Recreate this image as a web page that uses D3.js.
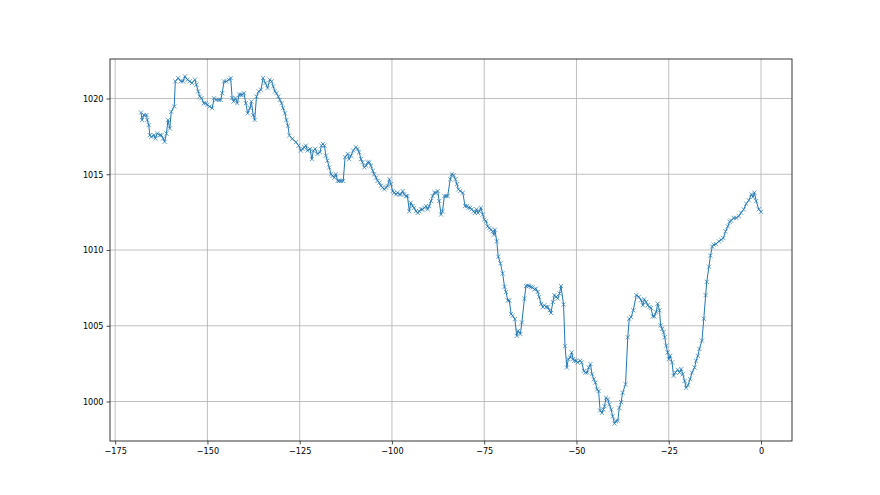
<!DOCTYPE html>
<html><head><meta charset="utf-8">
<script src="https://cdn.jsdelivr.net/npm/d3@7"></script>
<style>
html,body{margin:0;padding:0;background:#fff;}
svg text{font-family:"DejaVu Sans Condensed","DejaVu Sans",sans-serif;font-size:9px;fill:#000;}
</style></head>
<body>
<svg id="chart" width="880" height="495"></svg>
<script>
// hours relative to now
const hours = [
-168.0,-167.7,-167.2,-166.5,-166.3,-165.9,-165.6,-165.2,-164.5,-164.1,-163.6,-162.9,-162.5,-162.0,-161.6,-161.1,-160.7,-160.2,-159.8,-159.0,
-158.7,-157.9,-157.2,-156.6,-156.1,-155.4,-154.8,-154.2,-153.4,-153.0,-152.5,-152.1,-151.6,-151.0,-150.5,-150.0,-149.4,-148.7,-148.2,-147.6,
-146.9,-146.4,-146.0,-145.5,-144.8,-144.2,-143.7,-143.3,-142.9,-142.4,-141.9,-141.4,-141.0,-140.6,-140.1,-139.6,-139.1,-138.5,-138.1,-137.6,
-137.2,-136.7,-136.1,-135.5,-134.9,-134.3,-133.7,-133.1,-132.6,-132.2,-131.7,-131.3,-130.8,-130.4,-129.9,-129.5,-129.0,-128.6,-128.2,
-127.8,-127.0,-126.0,-125.3,-124.7,-124.2,-123.8,-123.3,-122.9,-122.2,-121.7,-121.3,-120.8,-120.2,-119.5,-119.1,-118.7,-118.3,-117.9,-117.5,
-117.0,-116.5,-116.1,-115.6,-115.2,-114.7,-114.3,-113.8,-113.2,-112.7,-112.0,-111.6,-111.1,-110.5,-109.8,-109.3,-108.9,-108.4,-108.0,-107.5,
-107.0,-106.6,-106.1,-105.7,-105.2,-104.8,-104.3,-103.9,-103.4,-103.0,-102.5,-102.1,-101.6,-101.2,-100.7,-100.3,-99.8,-99.4,-98.9,-98.5,
-98.0,-97.6,-97.1,-96.7,-96.2,-95.8,-95.3,-94.9,-94.4,-94.0,-93.5,-93.0,-92.6,-92.1,-91.7,-91.2,-90.8,-90.3,-89.9,-89.4,
-89.0,-88.5,-88.1,-87.6,-87.2,-86.7,-86.3,-85.8,-85.3,-84.9,
-84.2,-83.8,-83.3,-82.8,-82.4,-82.0,-81.5,-80.8,-80.2,-79.7,-79.3,-78.8,-78.4,-77.9,-77.5,-77.1,-76.7,-76.3,-75.9,-75.4,
-75.0,-74.5,-74.1,-73.6,-73.2,-72.7,-72.4,-72.1,-71.6,-71.2,-70.6,-70.0,-69.5,-69.1,-68.6,-68.2,-67.7,-67.3,-66.7,-66.2,
-65.8,-65.2,-64.8,-64.1,-63.7,-63.2,-62.8,-62.3,-61.9,-61.4,-61.0,-60.5,-60.1,-59.6,-59.1,-58.7,-58.2,-57.8,-57.3,-56.9,
-56.4,-56.0,-55.5,-55.1,-54.6,-54.2,-53.5,-53.1,-52.6,-52.2,-51.7,-51.3,-50.9,-50.6,-50.1,-49.7,-49.0,-48.6,-48.0,-47.6,
-47.1,-46.7,-46.2,-45.8,-45.3,-44.9,-44.4,-44.0,-43.6,-43.1,-42.7,
-42.4,-42.0,-41.5,-41.1,-40.6,-40.2,-39.7,-39.3,-38.8,-38.4,-37.9,-37.5,-36.7,-36.1,-35.7,-35.2,-34.6,-33.8,-33.1,-32.5,
-32.0,-31.6,-31.1,-30.7,-30.2,-29.8,-29.3,-28.9,-28.4,-28.0,-27.5,-27.2,-26.8,-26.4,-26.1,-25.7,-25.3,-25.0,-24.6,-24.1,
-23.7,-23.2,-22.6,-22.1,-21.6,-21.2,-20.7,-20.3,-19.8,-19.2,-18.7,-18.0,-17.6,-17.1,-16.7,-16.0,-15.5,-15.0,-14.7,-14.1,
-13.7,-13.2,-12.8,-12.2,-11.4,-10.8,-10.2,-9.6,-9.0,-8.5,-8.1,-7.4,-6.7,-6.0,-5.4,-4.7,-4.0,-3.3,-2.6,-2.2,
-1.8,-1.3,-0.6,0.0
];
// pressure (hPa)
const pressure = [
1019.07,1018.58,1018.91,1018.91,1018.58,1018.25,1017.58,1017.47,1017.58,1017.36,1017.69,1017.58,1017.58,1017.36,1017.14,1017.69,1018.58,1018.02,1019.13,1019.47,
1021.13,1021.35,1021.13,1021.13,1021.46,1021.24,1021.13,1021.02,1021.24,1020.91,1020.47,1020.13,1020.02,1019.69,1019.69,1019.58,1019.47,1019.36,1020.02,1019.91,
1019.91,1019.91,1020.35,1021.13,1021.13,1021.24,1021.35,1020.02,1019.80,1020.02,1019.69,1020.25,1020.25,1020.25,1020.35,1019.69,1019.02,1019.36,1019.80,1018.91,
1018.58,1020.13,1020.47,1020.58,1021.35,1021.02,1020.69,1021.24,1021.13,1020.80,1020.47,1020.35,1020.13,1019.91,1019.69,1019.36,1019.02,1018.58,1018.20,
1017.56,1017.34,1017.12,1016.89,1016.56,1016.67,1016.78,1016.89,1016.56,1016.67,1016.00,1016.56,1016.67,1016.34,1016.45,1016.89,1017.00,1016.89,1016.23,1015.90,
1015.45,1015.00,1014.89,1014.78,1015.00,1014.56,1014.56,1014.56,1014.56,1016.12,1016.34,1016.00,1016.23,1016.56,1016.78,1016.67,1016.45,1016.00,1015.79,1015.45,
1015.56,1015.79,1015.79,1015.56,1015.23,1015.00,1014.78,1014.56,1014.45,1014.23,1014.12,1014.00,1014.12,1014.23,1014.67,1014.34,1013.89,1013.78,1013.67,1013.78,
1013.67,1013.67,1013.89,1013.67,1013.56,1013.56,1012.56,1013.12,1012.90,1012.79,1012.56,1012.45,1012.56,1012.68,1012.68,1012.79,1012.90,1012.68,1012.90,1013.23,
1013.56,1013.78,1013.78,1013.89,1013.23,1012.34,1012.56,1013.56,1013.56,1013.56,
1014.67,1015.00,1014.94,1014.67,1014.34,1014.00,1013.89,1013.78,1012.90,1012.90,1012.79,1012.79,1012.68,1012.56,1012.45,1012.68,1012.45,1012.56,1012.79,1012.34,
1012.01,1011.90,1011.56,1011.45,1011.34,1011.23,1011.01,1011.34,1010.57,1009.56,1009.12,1008.45,1007.57,1007.23,1006.67,1006.67,1005.78,1005.66,1005.44,1004.33,
1004.67,1004.45,1005.22,1006.78,1007.62,1007.65,1007.62,1007.57,1007.53,1007.40,1007.45,1007.23,1006.90,1006.45,1006.23,1006.35,1006.24,1006.24,1006.02,1005.84,
1006.57,1007.02,1006.91,1006.80,1007.13,1007.62,1006.40,1003.65,1002.24,1002.80,1002.91,1003.24,1002.80,1002.69,1002.69,1002.58,1002.69,1002.58,1002.02,1001.91,
1001.91,1002.24,1002.47,1001.80,1001.47,1001.25,1000.80,1000.69,999.40,999.25,999.47,
999.69,1000.25,1000.14,999.81,999.47,999.03,998.54,998.70,998.74,999.58,999.96,1000.58,1001.14,1004.24,1005.46,1005.57,1006.02,1007.02,1006.91,1006.68,
1006.35,1006.75,1006.57,1006.35,1006.24,1006.17,1005.62,1005.62,1005.91,1006.46,1006.02,1005.02,1004.80,1004.57,1004.24,1003.69,1003.24,1002.80,1003.02,1002.58,
1001.69,1001.91,1002.09,1001.91,1002.14,1001.80,1001.36,1000.91,1001.07,1001.47,1001.91,1002.24,1002.69,1003.02,1003.47,1004.02,1005.46,1007.02,1007.90,1008.90,
1009.63,1010.23,1010.35,1010.39,1010.57,1010.68,1010.79,1011.23,1011.56,1011.86,1011.94,1012.12,1012.12,1012.23,1012.46,1012.68,1013.05,1013.28,1013.68,1013.50,
1013.79,1013.23,1012.68,1012.52
];
const xTicks = [-175,-150,-125,-100,-75,-50,-25,0];
const yTicks = [1000,1005,1010,1015,1020];

const data = hours.map((h,i)=>({h, p: pressure[i]}));
const svg = d3.select("#chart");
const L = 110, R = 792, T = 59, B = 441;

const xe = d3.extent(hours), ye = d3.extent(pressure);
const xm = (xe[1]-xe[0])*0.05, ym = (ye[1]-ye[0])*0.05;
const x = d3.scaleLinear().domain([xe[0]-xm, xe[1]+xm]).range([L, R]);
const y = d3.scaleLinear().domain([ye[0]-ym, ye[1]+ym]).range([B, T]);

const fmt = d => (d < 0 ? "\u2212" + Math.abs(d) : String(d));

// grid
const grid = svg.append("g");
grid.selectAll("line.gx").data(xTicks).join("line")
  .attr("x1", d=>x(d)).attr("x2", d=>x(d)).attr("y1", T).attr("y2", B)
  .attr("stroke", "#b0b0b0").attr("stroke-width", 0.8);
grid.selectAll("line.gy").data(yTicks).join("line")
  .attr("y1", d=>y(d)).attr("y2", d=>y(d)).attr("x1", L).attr("x2", R)
  .attr("stroke", "#b0b0b0").attr("stroke-width", 0.8);

// line
svg.append("path").datum(data)
  .attr("fill", "none").attr("stroke", "#1f77b4").attr("stroke-width", 1.0)
  .attr("stroke-linejoin", "round")
  .attr("d", d3.line().x(d=>x(d.h)).y(d=>y(d.p)));

// markers
const s = 2.1;
svg.append("g").selectAll("path").data(data).join("path")
  .attr("transform", d=>`translate(${x(d.h)},${y(d.p)})`)
  .attr("d", `M${-s},${-s}L${s},${s}M${-s},${s}L${s},${-s}`)
  .attr("stroke", "#1f77b4").attr("stroke-width", 0.8).attr("stroke-opacity", 0.85).attr("fill", "none");

// frame
svg.append("rect").attr("x", L).attr("y", T).attr("width", R-L).attr("height", B-T)
  .attr("fill", "none").attr("stroke", "#222").attr("stroke-width", 0.9);

// axes
const xAxis = d3.axisBottom(x).tickValues(xTicks).tickFormat(fmt).tickSize(3.5).tickPadding(3);
const yAxis = d3.axisLeft(y).tickValues(yTicks).tickFormat(fmt).tickSize(3.5).tickPadding(3);
const gx = svg.append("g").attr("transform", `translate(0,${B})`).call(xAxis);
const gy = svg.append("g").attr("transform", `translate(${L},0)`).call(yAxis);
[gx, gy].forEach(g => {
  g.select(".domain").remove();
  g.selectAll(".tick line").attr("stroke", "#222").attr("stroke-width", 0.8);
  g.selectAll(".tick text").attr("fill", "#000").style("font-size", "9px")
    .style("font-family", "'DejaVu Sans Condensed','DejaVu Sans',sans-serif");
});
</script>
</body></html>
